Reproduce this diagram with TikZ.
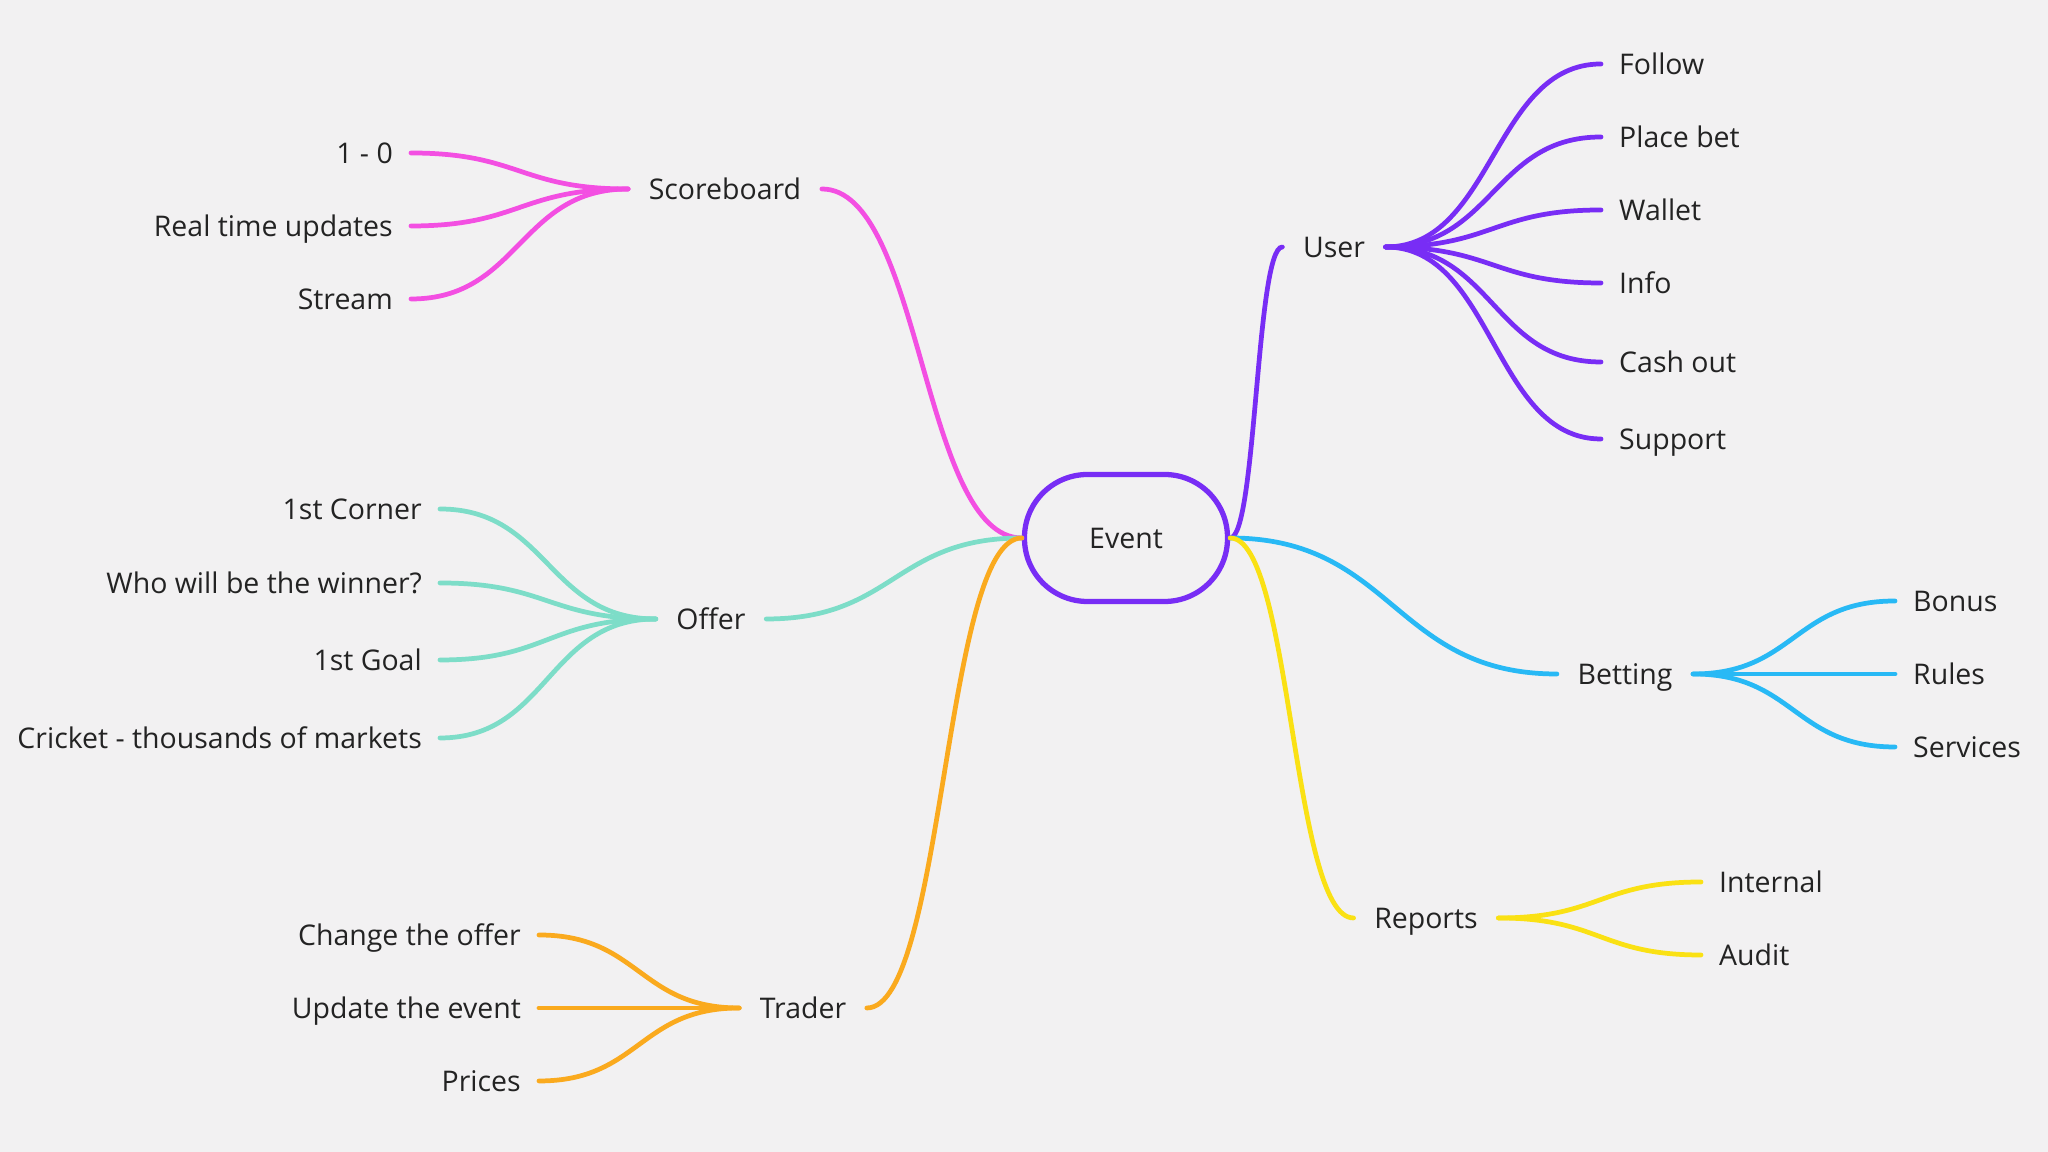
\documentclass[tikz,border=0pt]{standalone}
\usepackage{fontspec}
\setmainfont{Open Sans}
\usepackage{xcolor}
\definecolor{mmbg}{RGB}{242,241,242}
\definecolor{mmtext}{RGB}{35,35,35}
\definecolor{mmpink}{RGB}{243,79,226}
\definecolor{mmpurple}{RGB}{120,45,245}
\definecolor{mmteal}{RGB}{125,221,200}
\definecolor{mmorange}{RGB}{250,170,30}
\definecolor{mmblue}{RGB}{40,185,245}
\definecolor{mmyellow}{RGB}{250,225,20}
\usepackage{tikz}
\usetikzlibrary{calc}
\tikzset{
  leaf/.style={font=\fontsize{8.1}{10}\selectfont, text=mmtext, inner xsep=1.75mm, inner ysep=0pt, text height=1.6ex, text depth=.45ex},
  topic/.style={leaf, inner xsep=2mm},
  branch/.style={line width=1.35pt, line cap=round,
    to path={.. controls ($(\tikztostart)!.5!(\tikztotarget |- \tikztostart)$) and ($(\tikztotarget)!.5!(\tikztostart |- \tikztotarget)$) .. (\tikztotarget)}},
}

\begin{document}
\begin{tikzpicture}
  \useasboundingbox (0,0) rectangle (20.48,11.52);
  \fill[mmbg] (0,0) rectangle (20.48,11.52);
  % centre
  \node[draw=mmpurple, line width=1.5pt, rounded corners=6.3mm, minimum width=20.3mm, minimum height=12.7mm, font=\fontsize{8.1}{10}\selectfont, text=mmtext] (event) at (11.26,6.14) {Event};

  % Scoreboard (top-left)
  \node[topic] (score) at (7.25,9.63) {Scoreboard};
  \node[leaf, anchor=east] (score1) at (4.11,9.99) {1 - 0};
  \node[leaf, anchor=east] (score2) at (4.11,9.26) {Real time updates};
  \node[leaf, anchor=east] (score3) at (4.11,8.53) {Stream};
  \draw[branch, mmpink] (event.west) to (score.east);
  \foreach \n in {score1,score2,score3}
    \draw[branch, mmpink] (score.west) to (\n.east);

  % Offer (left)
  \node[topic] (offer) at (7.11,5.33) {Offer};
  \node[leaf, anchor=east] (offer1) at (4.40,6.43) {1st Corner};
  \node[leaf, anchor=east] (offer2) at (4.40,5.69) {Who will be the winner?};
  \node[leaf, anchor=east] (offer3) at (4.40,4.92) {1st Goal};
  \node[leaf, anchor=east] (offer4) at (4.40,4.14) {Cricket - thousands of markets};
  \draw[branch, mmteal] (event.west) to (offer.east);
  \foreach \n in {offer1,offer2,offer3,offer4}
    \draw[branch, mmteal] (offer.west) to (\n.east);

  % Trader (bottom-left)
  \node[topic] (trader) at (8.03,1.44) {Trader};
  \node[leaf, anchor=east] (trader1) at (5.39,2.17) {Change the offer};
  \node[leaf, anchor=east] (trader2) at (5.39,1.44) {Update the event};
  \node[leaf, anchor=east] (trader3) at (5.39,0.71) {Prices};
  \draw[branch, mmorange] (event.west) to (trader.east);
  \foreach \n in {trader1,trader2,trader3}
    \draw[branch, mmorange] (trader.west) to (\n.east);

  % User (top-right)
  \node[topic] (user) at (13.34,9.05) {User};
  \node[leaf, anchor=west] (user1) at (16.01,10.88) {Follow};
  \node[leaf, anchor=west] (user2) at (16.01,10.15) {Place bet};
  \node[leaf, anchor=west] (user3) at (16.01,9.42) {Wallet};
  \node[leaf, anchor=west] (user4) at (16.01,8.69) {Info};
  \node[leaf, anchor=west] (user5) at (16.01,7.90) {Cash out};
  \node[leaf, anchor=west] (user6) at (16.01,7.13) {Support};
  \draw[branch, mmpurple] (event.east) to (user.west);
  \foreach \n in {user1,user2,user3,user4,user5,user6}
    \draw[branch, mmpurple] (user.east) to (\n.west);

  % Betting (right)
  \node[topic] (betting) at (16.25,4.78) {Betting};
  \node[leaf, anchor=west] (bet1) at (18.95,5.51) {Bonus};
  \node[leaf, anchor=west] (bet2) at (18.95,4.78) {Rules};
  \node[leaf, anchor=west] (bet3) at (18.95,4.05) {Services};
  \draw[branch, mmblue] (event.east) to (betting.west);
  \foreach \n in {bet1,bet2,bet3}
    \draw[branch, mmblue] (betting.east) to (\n.west);

  % Reports (bottom-right)
  \node[topic] (reports) at (14.26,2.34) {Reports};
  \node[leaf, anchor=west] (rep1) at (17.01,2.70) {Internal};
  \node[leaf, anchor=west] (rep2) at (17.01,1.97) {Audit};
  \draw[branch, mmyellow] (event.east) to (reports.west);
  \foreach \n in {rep1,rep2}
    \draw[branch, mmyellow] (reports.east) to (\n.west);
\end{tikzpicture}
\end{document}
